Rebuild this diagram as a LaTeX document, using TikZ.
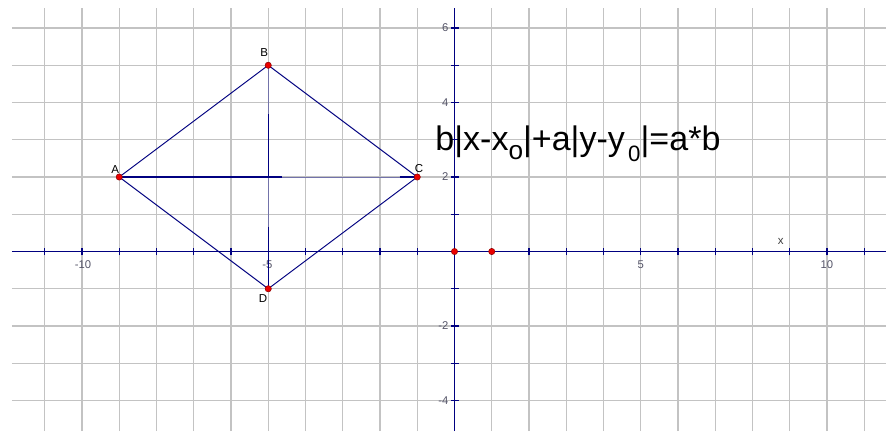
\documentclass[tikz,border=0pt]{standalone}
\usepackage{fontspec}
\setmainfont{Liberation Sans}
\definecolor{gridgray}{RGB}{195,195,195}
\definecolor{axisblue}{RGB}{0,0,128}
\definecolor{lightnavy}{RGB}{115,115,170}
\definecolor{labgray}{RGB}{85,85,105}
\definecolor{dotred}{RGB}{235,0,0}
\definecolor{dotedge}{RGB}{140,0,0}
\begin{document}
\begin{tikzpicture}[
  gridline/.style={draw=gridgray, line width=1.0pt},
  axisline/.style={draw=axisblue, line width=1.1pt},
  tickmark/.style={draw=axisblue, line width=1.0pt},
  ticklab/.style={text=labgray, font=\fontsize{8.6}{9}\selectfont, inner sep=0pt},
  plab/.style={text=black, font=\fontsize{8.8}{10}\selectfont, inner sep=0pt},
  edge/.style={draw=axisblue, line width=0.75pt},
  thinedge/.style={draw=lightnavy, line width=0.55pt},
  darkseg/.style={draw=axisblue, line width=1.1pt},
  dot/.style={circle, fill=dotred, draw=dotedge, line width=0.4pt, inner sep=0pt, minimum size=4.8pt}
]
\useasboundingbox (-12.201,-4.819) rectangle (11.584,6.752);
\fill[white] (-12.201,-4.819) rectangle (11.584,6.752);
% grid
\foreach \x in {-11,...,11} \draw[gridline] (\x,-4.819) -- (\x,6.54);
\foreach \y in {-4,...,6} \draw[gridline] (-11.88,\y) -- (11.584,\y);
% axes
\draw[axisline] (-11.88,0) -- (11.584,0);
\draw[axisline] (0,-4.819) -- (0,6.54);
\foreach \x in {-11,...,11} \draw[tickmark] (\x,-0.1) -- (\x,0.1);
\foreach \y in {-4,...,6} \draw[tickmark] (-0.09,\y) -- (0.12,\y);
% tick labels
\node[ticklab] (lxm10) at (-9.97,-0.36) {-10};
\node[ticklab] (lxm5) at (-5.02,-0.36) {-5};
\node[ticklab] (lx5) at (5,-0.36) {5};
\node[ticklab] (lx10) at (10,-0.36) {10};
\node[ticklab, anchor=east] (ly6) at (-0.16,6) {6};
\node[ticklab, anchor=east] (ly4) at (-0.16,4) {4};
\node[ticklab, anchor=east] (ly2) at (-0.16,2) {2};
\node[ticklab, anchor=east] (lym2) at (-0.16,-2) {-2};
\node[ticklab, anchor=east] (lym4) at (-0.16,-4) {-4};
\node[plab, text=black!75] (xlab) at (8.76,0.27) {x};
% points
\coordinate (A) at (-9,2);
\coordinate (B) at (-5,5);
\coordinate (C) at (-1,2);
\coordinate (D) at (-5,-1);
\coordinate (h1) at (-4.63,2);
\coordinate (h2) at (-1.47,2);
\coordinate (v1) at (-5,3.68);
\coordinate (v2) at (-5,2);
\coordinate (v3) at (-5,0.67);
% segments
\draw[thinedge] (A) -- (C);
\draw[thinedge] (B) -- (D);
\draw[darkseg] (A) -- (h1);
\draw[darkseg] (h2) -- (C);
\draw[darkseg] (v1) -- (v2);
\draw[darkseg] (v3) -- (D);
\draw[edge] (A) -- (B);
\draw[edge] (B) -- (C);
\draw[edge] (C) -- (D);
\draw[edge] (D) -- (A);
% dots
\node[dot] (dA) at (A) {};
\node[dot] (dB) at (B) {};
\node[dot] (dC) at (C) {};
\node[dot] (dD) at (D) {};
\node[dot] (O) at (0,0) {};
\node[dot] (P) at (1,0) {};
% point labels
\node[plab] (labA) at (-9.11,2.19) {A};
\node[plab] (labB) at (-5.11,5.34) {B};
\node[plab] (labC) at (-0.95,2.24) {C};
\node[plab] (labD) at (-5.14,-1.25) {D};
% equation
\node[anchor=base west, inner sep=0pt] (eq) at (-0.52,2.725)
  {\fontsize{26}{30}\selectfont b|x-x\raisebox{-7.6pt}{\fontsize{20}{20}\selectfont o}|+a|y-y\hspace{2.5pt}\raisebox{-8.8pt}{\fontsize{17}{18}\selectfont 0}|=a*b};
\end{tikzpicture}
\end{document}
